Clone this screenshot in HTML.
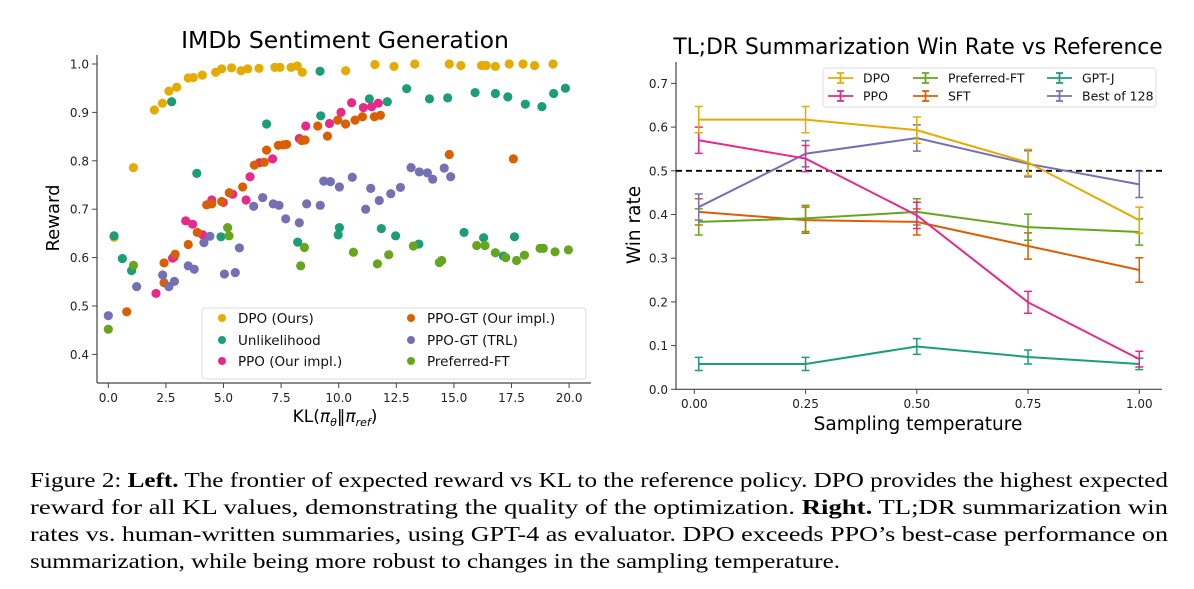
<!DOCTYPE html>
<html><head><meta charset="utf-8"><style>
body{margin:0;background:#fff;}
svg{display:block;font-family:"DejaVu Sans","Liberation Sans",sans-serif;}
.cap{font-family:"Liberation Serif","Times New Roman",serif;}
</style></head><body>
<svg id="fig" width="1194" height="589" viewBox="0 0 1194 589" xmlns="http://www.w3.org/2000/svg">
<rect width="1194" height="589" fill="#fff"/>
<g id="left"></g>
<g id="right"></g>
<g font-size="21.5" fill="#000">
<text class="cap" style="font-family:'Liberation Serif',serif" x="30" y="487" textLength="1138" lengthAdjust="spacingAndGlyphs">Figure 2: <tspan font-weight="bold">Left.</tspan> The frontier of expected reward vs KL to the reference policy. DPO provides the highest expected</text>
<text class="cap" style="font-family:'Liberation Serif',serif" x="30" y="514" textLength="1138" lengthAdjust="spacingAndGlyphs">reward for all KL values, demonstrating the quality of the optimization. <tspan font-weight="bold">Right.</tspan> TL;DR summarization win</text>
<text class="cap" style="font-family:'Liberation Serif',serif" x="30" y="541" textLength="1138" lengthAdjust="spacingAndGlyphs">rates vs. human-written summaries, using GPT-4 as evaluator. DPO exceeds PPO’s best-case performance on</text>
<text class="cap" style="font-family:'Liberation Serif',serif" x="30" y="568" textLength="810" lengthAdjust="spacingAndGlyphs">summarization, while being more robust to changes in the sampling temperature.</text>
</g>
</svg>
<script>
// ---- Left chart data (KL, reward) ----
const dpoKL=[0.25,1.09,2.0,2.35,2.63,2.97,3.47,3.69,4.08,4.66,4.92,5.35,5.76,6.05,6.54,7.23,7.45,7.93,8.2,8.42,10.3,11.57,12.4,13.3,14.8,15.3,16.2,16.4,16.8,17.4,18.0,18.5,19.3];
const dpoReward=[0.642,0.786,0.905,0.919,0.944,0.952,0.971,0.972,0.977,0.983,0.990,0.992,0.986,0.990,0.991,0.993,0.993,0.993,0.996,0.983,0.986,0.999,0.995,1.0,1.0,0.997,0.997,0.997,0.995,1.0,1.0,0.997,1.0];
const unlKL=[0.25,0.61,1.01,2.75,3.84,4.89,6.87,8.22,9.19,9.22,9.98,10.03,11.33,12.11,12.95,13.94,14.73,15.92,16.8,17.34,18.1,18.82,19.33,19.84,11.85,12.47,13.48,15.44,16.29,17.63,17.15];
const unlReward=[0.645,0.598,0.573,0.922,0.774,0.643,0.876,0.632,0.985,0.893,0.647,0.662,0.928,0.922,0.949,0.928,0.930,0.941,0.939,0.932,0.917,0.912,0.939,0.950,0.660,0.645,0.628,0.652,0.641,0.643,0.603];
const ppoKL=[2.07,2.79,2.85,3.36,3.66,4.1,4.49,4.99,5.4,5.98,6.15,6.56,7.13,8.29,8.57,9.6,10.1,10.56,11.07,11.43,11.72];
const ppoReward=[0.526,0.599,0.601,0.676,0.669,0.647,0.719,0.714,0.731,0.719,0.767,0.796,0.804,0.846,0.872,0.877,0.900,0.920,0.910,0.912,0.919];
const ppoGtKL=[0.8,2.42,2.42,2.9,3.47,3.86,4.27,4.49,4.92,5.25,5.83,6.34,6.77,6.87,7.38,7.6,7.74,8.39,8.54,9.09,9.51,9.96,10.3,10.71,11.03,11.55,11.81,14.8,17.58];
const ppoGtReward=[0.488,0.589,0.548,0.607,0.627,0.652,0.709,0.711,0.716,0.734,0.746,0.791,0.797,0.822,0.832,0.833,0.834,0.842,0.843,0.872,0.851,0.884,0.876,0.884,0.891,0.891,0.894,0.813,0.804];
const trlKL=[0.0,1.23,2.36,2.63,2.87,3.47,3.73,4.15,4.41,5.04,5.51,5.69,6.31,6.7,7.16,7.41,7.7,8.29,8.61,9.2,9.35,9.64,10.03,10.59,11.17,11.39,11.76,12.26,12.68,13.14,13.5,13.85,14.08,14.58,14.86];
const trlReward=[0.48,0.54,0.564,0.54,0.551,0.583,0.576,0.631,0.644,0.566,0.569,0.62,0.706,0.724,0.711,0.708,0.68,0.672,0.711,0.708,0.758,0.757,0.746,0.766,0.700,0.743,0.718,0.732,0.745,0.786,0.777,0.775,0.762,0.785,0.767];
const prefKL=[0.0,1.09,5.18,5.24,8.35,8.51,10.64,11.68,12.17,13.24,14.37,14.47,15.99,16.35,16.8,17.25,17.72,18.06,18.74,18.88,19.39,19.97];
const prefReward=[0.452,0.584,0.662,0.645,0.583,0.621,0.611,0.587,0.606,0.624,0.59,0.594,0.625,0.625,0.610,0.600,0.594,0.605,0.619,0.619,0.612,0.616];
const leftXTicks=[0,2.5,5,7.5,10,12.5,15,17.5,20];
const leftXTickLabels=["0.0","2.5","5.0","7.5","10.0","12.5","15.0","17.5","20.0"];
const leftYTicks=[0.4,0.5,0.6,0.7,0.8,0.9,1.0];
const leftYTickLabels=["0.4","0.5","0.6","0.7","0.8","0.9","1.0"];

// ---- Right chart data ----
const temps=[0.01,0.25,0.5,0.75,1.0];
const dpoWin=[0.617,0.617,0.593,0.519,0.387];
const ppoWin=[0.570,0.528,0.398,0.199,0.069];
const prefWin=[0.383,0.391,0.406,0.371,0.360];
const sftWin=[0.406,0.387,0.383,0.328,0.273];
const gptjWin=[0.058,0.058,0.098,0.074,0.058];
const bestWin=[0.417,0.539,0.575,0.516,0.469];
const dpoErr=[0.03,0.03,0.03,0.03,0.03];
const ppoErr=[0.03,0.03,0.03,0.025,0.018];
const prefErr=[0.03,0.03,0.03,0.03,0.03];
const sftErr=[0.03,0.03,0.03,0.03,0.028];
const gptjErr=[0.015,0.015,0.018,0.016,0.013];
const bestErr=[0.03,0.03,0.03,0.03,0.03];
const rightXTicks=[0,0.25,0.5,0.75,1.0];
const rightXTickLabels=["0.00","0.25","0.50","0.75","1.00"];
const rightYTicks=[0,0.1,0.2,0.3,0.4,0.5,0.6,0.7];
const rightYTickLabels=["0.0","0.1","0.2","0.3","0.4","0.5","0.6","0.7"];

const NS="http://www.w3.org/2000/svg";
function mk(parent,tag,attrs,text){const e=document.createElementNS(NS,tag);for(const k in attrs)e.setAttribute(k,attrs[k]);if(text!==undefined)e.textContent=text;parent.appendChild(e);return e;}
const C={teal:"#1b9e77",orange:"#d95f02",purple:"#7570b3",pink:"#e7298a",green:"#66a61e",yellow:"#e6ab02"};

// Left axes
const L=document.getElementById('left');
const lx=v=>108.3+v*23.04;
const ly=v=>64+(1.0-v)*484;
let e;
e=mk(L,'text',{x:345,y:48,'font-size':23.5,'text-anchor':'middle',fill:'#000'},'IMDb Sentiment Generation');


e=mk(L,'line',{x1:97,y1:55,x2:97,y2:383,stroke:'#444','stroke-width':1.2});


e=mk(L,'line',{x1:97,y1:383,x2:591,y2:383,stroke:'#444','stroke-width':1.2});


leftXTicks.forEach((t,i)=>{
 mk(L,'line',{x1:lx(t),y1:383,x2:lx(t),y2:388,stroke:'#444','stroke-width':1});
 e=mk(L,'text',{x:lx(t),y:402,'font-size':12,'text-anchor':'middle',fill:'#222'},leftXTickLabels[i]);
 
 
});
leftYTicks.forEach((t,i)=>{
 mk(L,'line',{x1:92,y1:ly(t),x2:97,y2:ly(t),stroke:'#444','stroke-width':1});
 e=mk(L,'text',{x:89,y:ly(t)+4.5,'font-size':12,'text-anchor':'end',fill:'#222'},leftYTickLabels[i]);
 
 
});
e=mk(L,'text',{x:335,y:422,'font-size':17,'text-anchor':'middle',fill:'#000'});
e.innerHTML='KL(<tspan font-style="italic">π</tspan><tspan font-size="11" dy="4" font-style="italic">θ</tspan><tspan dy="-4">‖</tspan><tspan font-style="italic">π</tspan><tspan font-size="11" dy="4" font-style="italic">ref</tspan><tspan dy="-4">)</tspan>';


e=mk(L,'text',{x:0,y:0,'font-size':18,'text-anchor':'middle',fill:'#000',transform:'translate(59,218) rotate(-90)'},'Reward');


const series=[["dpo",dpoKL,dpoReward,C.yellow],["unlikelihood",unlKL,unlReward,C.teal],["ppo",ppoKL,ppoReward,C.pink],["ppo-gt",ppoGtKL,ppoGtReward,C.orange],["ppo-gt-trl",trlKL,trlReward,C.purple],["preferred-ft",prefKL,prefReward,C.green]];
series.forEach(s=>{
 const g=mk(L,'g',{});
 
 
 s[1].forEach((x,i)=>{
  const c=mk(g,'circle',{cx:lx(x),cy:ly(s[2][i]),r:4.6,fill:s[3]});
  
  
 });
});
// left legend
const LG=mk(L,'g',{});


mk(LG,'rect',{x:202,y:308,width:384,height:71,rx:3,fill:'#fff','fill-opacity':0.85,stroke:'#ddd'});
const lleg=[["DPO (Ours)",C.yellow,222,318],["Unlikelihood",C.teal,222,340],["PPO (Our impl.)",C.pink,222,361],["PPO-GT (Our impl.)",C.orange,411,318],["PPO-GT (TRL)",C.purple,411,340],["Preferred-FT",C.green,411,361]];
lleg.forEach(l=>{
 const g=mk(LG,'g',{});
 
 
 mk(g,'circle',{cx:l[2],cy:l[3],r:4,fill:l[1]});
 mk(g,'text',{x:l[2]+16,y:l[3]+5,'font-size':13.5,fill:'#111'},l[0]);
});

// Right axes
const R=document.getElementById('right');
const rx=v=>694.3+v*445;
const ry=v=>389.3-v*437;
e=mk(R,'text',{x:918,y:54,'font-size':21.8,'text-anchor':'middle',fill:'#000'},'TL;DR Summarization Win Rate vs Reference');


e=mk(R,'line',{x1:676,y1:62,x2:676,y2:389.3,stroke:'#444','stroke-width':1.2});


e=mk(R,'line',{x1:676,y1:389.3,x2:1162,y2:389.3,stroke:'#444','stroke-width':1.2});


rightXTicks.forEach((t,i)=>{
 mk(R,'line',{x1:rx(t),y1:389.3,x2:rx(t),y2:394,stroke:'#444','stroke-width':1});
 e=mk(R,'text',{x:rx(t),y:408,'font-size':12,'text-anchor':'middle',fill:'#222'},rightXTickLabels[i]);
 
 
});
rightYTicks.forEach((t,i)=>{
 mk(R,'line',{x1:671,y1:ry(t),x2:676,y2:ry(t),stroke:'#444','stroke-width':1});
 e=mk(R,'text',{x:668,y:ry(t)+4.5,'font-size':12,'text-anchor':'end',fill:'#222'},rightYTickLabels[i]);
 
 
});
e=mk(R,'text',{x:918,y:430,'font-size':18.5,'text-anchor':'middle',fill:'#000'},'Sampling temperature');


e=mk(R,'text',{x:0,y:0,'font-size':18.5,'text-anchor':'middle',fill:'#000',transform:'translate(640,225) rotate(-90)'},'Win rate');


e=mk(R,'line',{x1:676,y1:ry(0.5),x2:1162,y2:ry(0.5),stroke:'#000','stroke-width':1.8,'stroke-dasharray':'6,4'});


const rs=[["gpt-j",gptjWin,gptjErr,C.teal],["sft",sftWin,sftErr,C.orange],["preferred-ft",prefWin,prefErr,C.green],["best-of-128",bestWin,bestErr,C.purple],["ppo",ppoWin,ppoErr,C.pink],["dpo",dpoWin,dpoErr,C.yellow]];
rs.forEach(s=>{
 const g=mk(R,'g',{});
 
 
 const pts=temps.map((t,i)=>rx(t)+','+ry(s[1][i])).join(' ');
 const pl=mk(g,'polyline',{points:pts,fill:'none',stroke:s[3],'stroke-width':2});
 
 
 temps.forEach((t,i)=>{
  const x=rx(t),y1=ry(s[1][i]-s[2][i]),y2=ry(s[1][i]+s[2][i]);
  const eb=mk(g,'path',{d:`M${x},${y1}V${y2}M${x-4},${y1}H${x+4}M${x-4},${y2}H${x+4}`,stroke:s[3],'stroke-width':1.5,fill:'none'});
  
  
 });
});
const RG=mk(R,'g',{});


mk(RG,'rect',{x:823,y:68,width:333,height:39,rx:3,fill:'#fff','fill-opacity':0.85,stroke:'#ddd'});
const rleg=[["DPO",C.yellow,828,78],["PPO",C.pink,828,96],["Preferred-FT",C.green,913,78],["SFT",C.orange,913,96],["GPT-J",C.teal,1047,78],["Best of 128",C.purple,1047,96]];
rleg.forEach(l=>{
 const g=mk(RG,'g',{});
 
 
 mk(g,'path',{d:`M${l[2]},${l[3]}H${l[2]+25}M${l[2]+12.5},${l[3]-5}V${l[3]+5}M${l[2]+9},${l[3]-5}H${l[2]+16}M${l[2]+9},${l[3]+5}H${l[2]+16}`,stroke:l[1],'stroke-width':1.8,fill:'none'});
 mk(g,'text',{x:l[2]+35,y:l[3]+4.5,'font-size':12.5,fill:'#111'},l[0]);
});
</script>
</body></html>
